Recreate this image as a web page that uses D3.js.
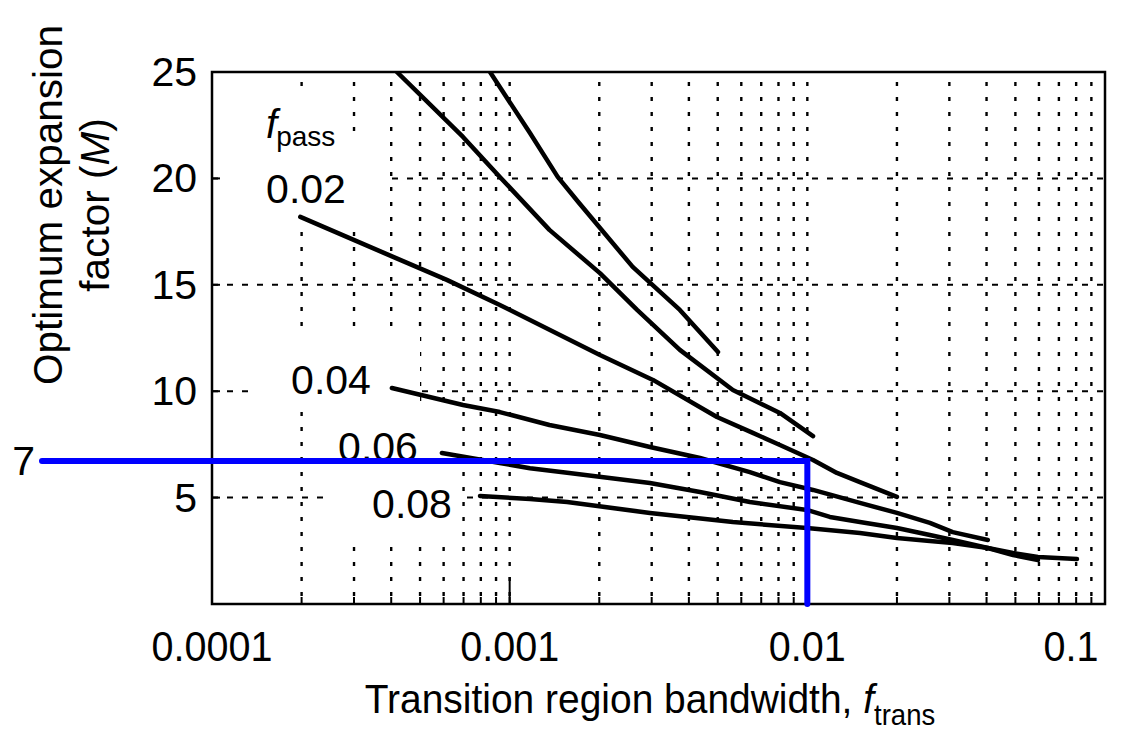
<!DOCTYPE html>
<html>
<head>
<meta charset="utf-8">
<script src="https://cdn.jsdelivr.net/npm/d3@7"></script>
<style>
  html, body { margin: 0; padding: 0; background: #fff; }
  svg { display: block; font-family: "Liberation Sans", Arial, sans-serif; }
</style>
</head>
<body>
<svg id="chart" width="1130" height="737"></svg>
<script>
// ---- Data (f_trans, M) ----
const curveA = [[0.000859,25.0],[0.00117,22.13],[0.00145,20.07],[0.00170,18.89],[0.00259,15.84],[0.00373,13.82],[0.00501,11.84]];
const curveB = [[0.000418,25.0],[0.000697,21.95],[0.000927,20.07],[0.00136,17.58],[0.00201,15.55],[0.00268,13.82],[0.00373,11.94],[0.00562,10.06],[0.00809,8.98],[0.01045,7.89]];
const curve002 = [[0.000198,18.19],[0.000406,16.31],[0.000615,15.23],[0.000927,14.05],[0.00201,11.70],[0.00303,10.53],[0.00497,8.79],[0.00656,8.04],[0.00809,7.47],[0.01045,6.77],[0.01257,6.16],[0.01502,5.73],[0.0200,5.03]];
const curve004 = [[0.000402,10.15],[0.000697,9.35],[0.000927,9.02],[0.00136,8.41],[0.00201,7.94],[0.00296,7.38],[0.00436,6.86],[0.00641,6.20],[0.00809,5.73],[0.01045,5.36],[0.01502,4.75],[0.0200,4.28],[0.0258,3.81],[0.0308,3.38],[0.0404,3.01]];
const curve006 = [[0.000592,7.10],[0.000927,6.63],[0.00117,6.38],[0.00156,6.17],[0.00296,5.69],[0.00436,5.26],[0.00641,4.79],[0.00997,4.42],[0.0119,4.09],[0.01502,3.85],[0.0200,3.57],[0.0258,3.24],[0.0308,3.01],[0.0404,2.63],[0.0491,2.30],[0.0595,2.07]];
const curve008 = [[0.000795,5.08],[0.00117,4.93],[0.00156,4.79],[0.00296,4.28],[0.00562,3.85],[0.00997,3.57],[0.01502,3.34],[0.0200,3.10],[0.0258,2.96],[0.0308,2.87],[0.0404,2.63],[0.0491,2.40],[0.0595,2.21],[0.0805,2.11]];

const passLabels = ["0.02", "0.04", "0.06", "0.08"];
const xTickValues = [0.0001, 0.001, 0.01, 0.1];
const xTickLabels = ["0.0001", "0.001", "0.01", "0.1"];
const yTickValues = [5, 10, 15, 20, 25];
const yGridValues = [5, 10, 15, 20];
const designPoint = [0.01, 6.72];   // blue guide (f_trans, M)
const designLabel = "7";

// ---- Layout ----
const svg = d3.select("#chart");
const L = 212, R = 1105, T = 72, B = 604;
const x = d3.scaleLog().domain([0.0001, 0.1]).range([L, R]);
const y = d3.scaleLinear().domain([0, 25]).range([B, T]);

// minor log positions
const minorVals = [];
for (let e = -4; e <= -2; e++) for (let m = 1; m <= 9; m++) {
  const v = m * Math.pow(10, e);
  if (v > 0.0001 && v < 0.1) minorVals.push(v);
}

// ---- Grid ----
const grid = svg.append("g");
grid.selectAll("line.v").data(minorVals).join("line")
  .attr("x1", d => x(d)).attr("x2", d => x(d))
  .attr("y1", T + 10).attr("y2", B)
  .attr("stroke", "#000").attr("stroke-width", 2.4)
  .attr("stroke-dasharray", "4,11");
grid.selectAll("line.h").data(yGridValues).join("line")
  .attr("x1", L).attr("x2", R)
  .attr("y1", d => y(d)).attr("y2", d => y(d))
  .attr("stroke", "#000").attr("stroke-width", 2)
  .attr("stroke-dasharray", "6,9");

// ---- White label boxes (occlude grid like the original) ----
const boxes = [
  [236, 88, 345, 150],
  [220, 133, 385, 229],
  [248, 327, 420, 408],
  [340, 405, 452, 537],
  [325, 470, 462, 537]
];
svg.append("g").selectAll("rect").data(boxes).join("rect")
  .attr("x", d => d[0]).attr("y", d => d[1])
  .attr("width", d => d[2] - d[0]).attr("height", d => d[3] - d[1])
  .attr("fill", "#fff");

// ---- Frame & ticks ----
const axes = svg.append("g");
axes.append("rect").attr("x", L).attr("y", T).attr("width", R - L).attr("height", B - T)
  .attr("fill", "none").attr("stroke", "#000").attr("stroke-width", 2.5);
axes.selectAll("line.yt").data(yTickValues).join("line")
  .attr("x1", L).attr("x2", L + 8).attr("y1", d => y(d)).attr("y2", d => y(d))
  .attr("stroke", "#000").attr("stroke-width", 2);
axes.selectAll("line.xm").data(minorVals).join("line")
  .attr("x1", d => x(d)).attr("x2", d => x(d)).attr("y1", B).attr("y2", B - 7)
  .attr("stroke", "#000").attr("stroke-width", 2);
axes.selectAll("line.xM").data([0.001, 0.01]).join("line")
  .attr("x1", d => x(d)).attr("x2", d => x(d)).attr("y1", B).attr("y2", B - 27)
  .attr("stroke", "#000").attr("stroke-width", 2);

// tick labels
axes.selectAll("text.yl").data(yTickValues).join("text")
  .attr("x", L - 15).attr("y", d => y(d) + 14)
  .attr("text-anchor", "end").attr("font-size", 41).attr("fill", "#000")
  .text(d => d);
axes.selectAll("text.xl").data(xTickValues).join("text")
  .attr("transform", (d, i) => {
    const px = i === xTickValues.length - 1 ? x(d) - 34 : x(d);
    return `translate(${px},${B + 57}) scale(0.92,1)`;
  })
  .attr("text-anchor", "middle").attr("font-size", 43).attr("fill", "#000")
  .text((d, i) => xTickLabels[i]);

// axis titles
const xt = svg.append("text").attr("transform", "translate(650,713) scale(0.95,1)")
  .attr("text-anchor", "middle").attr("font-size", 41).attr("fill", "#000");
xt.append("tspan").text("Transition region bandwidth, ");
xt.append("tspan").attr("font-style", "italic").text("f");
xt.append("tspan").attr("font-size", 29).attr("dy", 12).text("trans");

const yt = svg.append("g").attr("transform", "translate(62,205) rotate(-90)");
yt.append("text").attr("x", 0).attr("y", 0).attr("text-anchor", "middle")
  .attr("font-size", 40.5).attr("fill", "#000").text("Optimum expansion");
const yt2 = yt.append("text").attr("x", 0).attr("y", 47).attr("text-anchor", "middle")
  .attr("font-size", 40.5).attr("fill", "#000");
yt2.append("tspan").text("factor (");
yt2.append("tspan").attr("font-style", "italic").text("M");
yt2.append("tspan").text(")");

// ---- Annotations ----
const fp = svg.append("text").attr("x", 266).attr("y", 138).attr("font-size", 40).attr("fill", "#000");
fp.append("tspan").attr("font-style", "italic").text("f");
fp.append("tspan").attr("font-size", 28).attr("dy", 8).attr("dx", -1).text("pass");

const labelPos = [[306, 203], [331, 394], [378, 461], [412, 518]];
svg.selectAll("text.pl").data(passLabels).join("text")
  .attr("x", (d, i) => labelPos[i][0]).attr("y", (d, i) => labelPos[i][1])
  .attr("text-anchor", "middle").attr("font-size", 41).attr("fill", "#000")
  .text(d => d);

// ---- Curves ----
svg.append("clipPath").attr("id", "plotclip").append("rect")
  .attr("x", L).attr("y", T).attr("width", R - L).attr("height", B - T);
const line = d3.line().x(d => x(d[0])).y(d => y(d[1]));
const curves = [curveA, curveB, curve002, curve004, curve006, curve008];
svg.append("g").attr("clip-path", "url(#plotclip)")
  .selectAll("path").data(curves).join("path")
  .attr("d", line).attr("fill", "none").attr("stroke", "#000")
  .attr("stroke-width", 4.5).attr("stroke-linecap", "round").attr("stroke-linejoin", "round");

// ---- Blue design guide ----
const bx = x(designPoint[0]), by = y(designPoint[1]);
svg.append("path")
  .attr("d", `M42,${by} L${bx},${by} L${bx},${B}`)
  .attr("fill", "none").attr("stroke", "#0000ff").attr("stroke-width", 6)
  .attr("stroke-linecap", "round").attr("stroke-linejoin", "miter");
svg.append("text").attr("x", 35).attr("y", by + 14).attr("text-anchor", "end")
  .attr("font-size", 41).attr("fill", "#000").text(designLabel);
</script>
</body>
</html>
